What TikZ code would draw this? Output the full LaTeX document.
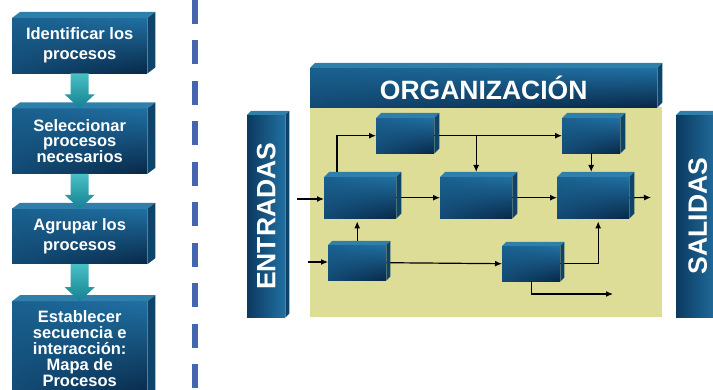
\documentclass[tikz,border=0pt]{standalone}
\usepackage{fontspec}
\setmainfont{Liberation Sans}
\usetikzlibrary{arrows.meta,positioning,calc,shadings}

\definecolor{blkUL}{RGB}{26,96,142}
\definecolor{blkUR}{RGB}{32,112,162}
\definecolor{blkLL}{RGB}{18,74,116}
\definecolor{blkLR}{RGB}{8,40,72}
\definecolor{blkTop}{RGB}{46,128,170}
\definecolor{blkSide}{RGB}{14,68,106}
\definecolor{barDark}{RGB}{12,58,96}
\definecolor{barLight}{RGB}{34,112,162}
\definecolor{zonaFill}{RGB}{222,221,152}
\definecolor{flowTop}{RGB}{72,192,196}
\definecolor{flowBot}{RGB}{22,128,146}
\definecolor{divider}{RGB}{68,102,176}

\tikzset{
  >=Latex,
  every node/.append style={text=white},
}
\tikzset{
  blk/.style={inner sep=0pt, align=center, font=\bfseries,
              upper left=blkUL, upper right=blkUR, lower left=blkLL, lower right=blkLR},
  bar/.style={inner sep=0pt, font=\bfseries\fontsize{26.5}{26.5}\selectfont,
              left color=barDark, right color=barLight},
  arr/.style={-{Latex[length=7pt,width=6pt]}, line width=1.2pt, black}
}

\begin{document}
\begin{tikzpicture}[x=1pt, y=-1pt,
  paso/.style={blk, minimum width=135pt, minimum height=55pt},
  proc/.style={blk, minimum width=58pt, minimum height=35pt},
  procw/.style={blk, minimum width=72pt, minimum height=41pt},
  flow/.style={top color=flowTop, bottom color=flowBot},
  zona/.style={fill=zonaFill, inner sep=0pt}
]
\useasboundingbox (0,0) rectangle (713,390);

% pasos (izquierda)
\node[paso, anchor=north west, font=\bfseries\fontsize{16.5}{20}\selectfont] (s1) at (12,18)
  {Identificar los\\procesos};
\node[paso, below=35pt of s1, minimum height=65pt, font=\bfseries\fontsize{16.5}{15.5}\selectfont] (s2)
  {Seleccionar\\procesos\\necesarios};
\node[paso, below=35pt of s2, font=\bfseries\fontsize{16.5}{20}\selectfont] (s3)
  {Agrupar los\\procesos};
\node[paso, below=37pt of s3, minimum height=95pt, font=\bfseries\fontsize{16.5}{16}\selectfont] (s4)
  {Establecer\\secuencia e\\interacción:\\Mapa de\\Procesos};

% separador
\draw[divider, line width=6pt, dash pattern=on 24pt off 16.5pt] (194.5,0) -- (194.5,392);

% organizacion
\node[zona, anchor=north west, minimum width=352pt, minimum height=210pt] (zona) at (310,107) {};
\node[blk, anchor=north west, minimum width=347pt, minimum height=39pt,
      font=\bfseries\fontsize{26.5}{26.5}\selectfont] (org) at (310,68) {ORGANIZACIÓN};
\node[bar, anchor=north west, minimum width=38pt, minimum height=202pt] (ent) at (247,115)
  {\rotatebox{90}{ENTRADAS}};
\node[bar, anchor=north west, minimum width=43pt, minimum height=202pt] (sal) at (676,115)
  {\rotatebox{90}{SALIDAS}};

\node[proc,  anchor=north west] (A) at (376,118) {};
\node[procw, anchor=north west] (B) at (324,177) {};
\node[proc,  anchor=north west] (C) at (328,245) {};
\node[procw, anchor=north west] (D) at (440,177) {};
\node[proc,  anchor=north west] (E) at (562,118) {};
\node[procw, anchor=north west] (F) at (557,177) {};
\node[proc,  anchor=north west] (G) at (502,246) {};

\coordinate (in1) at (297,199);
\coordinate (in2) at (308,262);
\coordinate (out1) at (651,197.5);
\coordinate (out2) at (613,294);

% conexiones
\draw[arr] (in1) -- (in1 -| B.west);
\draw[arr] (in2) -- (in2 -| C.west);
\draw[arr] (C.north) -- ($(C.north |- B.south)+(0,3)$);
\draw[arr] ($(B.north west)+(13,0)$) |- (A.west);
\draw[arr] (B.east) -- (D.west);
\draw[arr] (A.east) -- (E.west);
\draw[arr] (D.north |- A.east) -- ($(D.north)+(0,-5)$);
\draw[arr] (E.south) -- ($(E.south |- F.north)+(0,-5)$);
\draw[arr] (D.east) -- (F.west);
\draw[arr] (F.east) -- (out1);
\draw[arr] (C.east) -- (G.west);
\draw[arr] (G.east) -| ($(F.south)+(5,3)$);
\draw[arr] (G.south) |- (out2);

% caras 3D
\foreach \n/\dx/\dy in {s1/8/6, s2/8/6, s3/8/6, s4/8/6, org/5/5, ent/4/4, sal/4/4,
                       A/5/5, B/5/5, C/4/4, D/5/5, E/5/5, F/5/5, G/4/4}{
  \fill[blkTop] (\n.north west) -- ++(\dx,-\dy) -- ($(\n.north east)+(\dx,-\dy)$) -- (\n.north east) -- cycle;
  \fill[blkSide] (\n.north east) -- ++(\dx,-\dy) -- ($(\n.south east)+(\dx,-\dy)$) -- (\n.south east) -- cycle;
}

% flechas entre pasos
\foreach \a/\b in {s1/s2, s2/s3, s3/s4}{
  \shade[flow] let \p1=(\a.south), \p2=(\b.north) in
    (\x1-9,\y1) -- (\x1+9,\y1) -- (\x1+9,\y2+14) -- (\x1+15,\y2+14) -- (\x1,\y2)
    -- (\x1-15,\y2+14) -- (\x1-9,\y2+14) -- cycle;
}

\end{tikzpicture}
\end{document}
